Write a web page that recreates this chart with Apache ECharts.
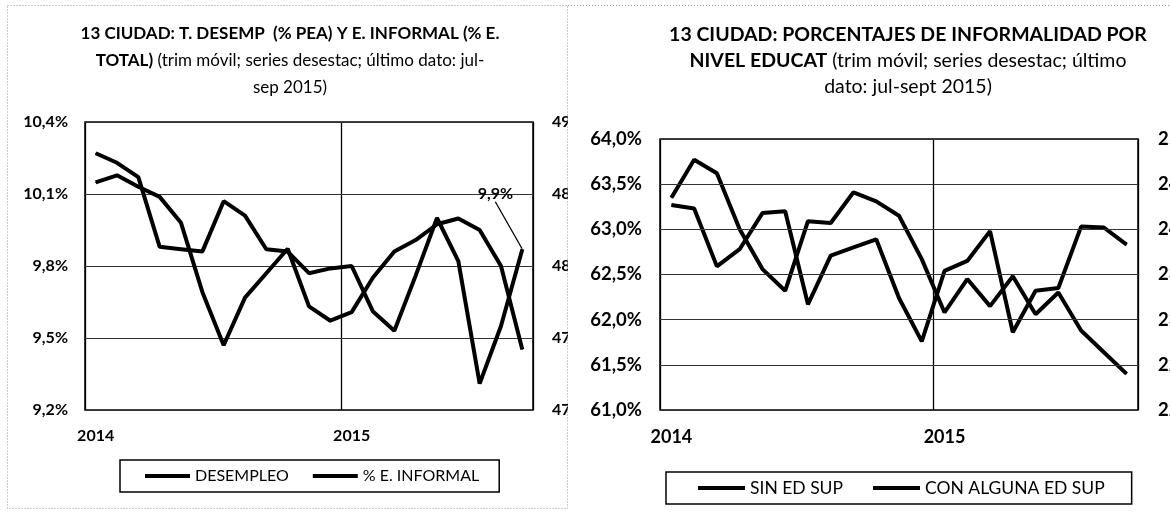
<!DOCTYPE html>
<html>
<head>
<meta charset="utf-8">
<script src="https://cdn.jsdelivr.net/npm/echarts@6/dist/echarts.min.js"></script>
<style>
html, body { margin: 0; padding: 0; background: #fff; }
#main { width: 1170px; height: 517px; }
</style>
</head>
<body>
<div id="main"></div>
<script>
// meses (trim movil), ene-2014 .. sep-2015
var months = ['2014-01','2014-02','2014-03','2014-04','2014-05','2014-06','2014-07','2014-08','2014-09','2014-10','2014-11','2014-12',
              '2015-01','2015-02','2015-03','2015-04','2015-05','2015-06','2015-07','2015-08','2015-09'];

// grafico 1: desempleo (% PEA, eje izq) y empleo informal (% E. total, eje der)
var desempleo = [10.27, 10.23, 10.17, 9.88, 9.87, 9.86, 10.07, 10.01, 9.87, 9.86, 9.77, 9.79,
                 9.80, 9.61, 9.53, 9.76, 10.00, 9.82, 9.31, 9.55, 9.87];
var informal = [48.58, 48.63, 48.55, 48.48, 48.30, 47.82, 47.45, 47.78, 47.95, 48.12, 47.72, 47.62,
                47.68, 47.92, 48.10, 48.18, 48.29, 48.33, 48.25, 48.00, 47.42];

// grafico 2: informalidad por nivel educativo
var sinEdSup = [63.35, 63.77, 63.62, 63.00, 62.56, 62.32, 63.09, 63.07, 63.41, 63.31, 63.15, 62.67,
                62.08, 62.45, 62.15, 62.48, 62.06, 62.30, 61.88, 61.64, 61.40];
var conEdSup = [24.27, 24.23, 23.59, 23.78, 24.18, 24.20, 23.17, 23.71, 23.80, 23.89, 23.24, 22.76,
                23.54, 23.65, 23.98, 22.86, 23.32, 23.35, 24.03, 24.02, 23.83];

var FONT = 'Lato';
var pct = function (v) { return v.toFixed(1).replace('.', ',') + '%'; };
var isYearStart = function (i, v) { return String(v).slice(5) === '01'; };

function xAxisFor(grid, size) {
  return {
    type: 'category', gridIndex: grid, data: months, boundaryGap: true,
    axisLine: { show: false }, axisTick: { show: false },
    axisLabel: {
      interval: isYearStart, margin: 18,
      formatter: function (v) { return v.slice(0, 4); },
      fontFamily: FONT, fontWeight: 'bold', fontSize: size, color: '#000'
    },
    splitLine: { show: true, interval: isYearStart, lineStyle: { color: '#000', width: 1.3 } }
  };
}
function yAxisFor(grid, pos, min, max, step, size, margin, grids, z) {
  return {
    type: 'value', gridIndex: grid, position: pos, min: min, max: max, interval: step, z: z,
    axisLine: { show: false }, axisTick: { show: false },
    axisLabel: { formatter: pct, margin: margin, fontFamily: FONT, fontWeight: 'bold', fontSize: size, color: '#000' },
    splitLine: { show: grids, lineStyle: { color: '#333', width: 1 } }
  };
}
function lineSeries(name, data, xi, yi) {
  return {
    name: name, type: 'line', xAxisIndex: xi, yAxisIndex: yi, data: data,
    symbol: 'circle', symbolSize: 1, showSymbol: true,
    itemStyle: { color: '#000' }, lineStyle: { color: '#000', width: 4 },
    emphasis: { disabled: true }
  };
}

var lastIdx = desempleo.length - 1;
var desempleoData = desempleo.map(function (v, i) {
  if (i !== lastIdx) return v;
  return {
    value: v,
    label: { show: true, position: 'top', formatter: function (p) { return pct(p.value); },
             fontFamily: FONT, fontWeight: 'bold', fontSize: 16, color: '#000' },
    labelLine: { show: true, lineStyle: { color: '#000', width: 1.3 } }
  };
});

var s1 = lineSeries('DESEMPLEO', desempleoData, 0, 0);
s1.labelLayout = { dx: -27, dy: -42 };

var rich1 = {
  b: { fontFamily: FONT, fontWeight: 'bold', fontSize: 17, lineHeight: 27, color: '#000' },
  n: { fontFamily: FONT, fontWeight: 'normal', fontSize: 17, lineHeight: 27, color: '#000' }
};
var rich2 = {
  b: { fontFamily: FONT, fontWeight: 'bold', fontSize: 19.5, lineHeight: 26, color: '#000' },
  n: { fontFamily: FONT, fontWeight: 'normal', fontSize: 19.5, lineHeight: 26, color: '#000' }
};

var option = {
  animation: false,
  backgroundColor: '#fff',
  title: [{
    text: '{b|13 CIUDAD: T. DESEMP  (% PEA) Y E. INFORMAL (% E.}\n{b|TOTAL)}{n| (trim móvil; series desestac; último dato: jul-}\n{n|sep 2015)}',
    left: 290, top: 20, padding: 0, textAlign: 'center',
    textStyle: { rich: rich1 }
  }, {
    text: '{b|13 CIUDAD: PORCENTAJES DE INFORMALIDAD POR}\n{b|NIVEL EDUCAT}{n| (trim móvil; series desestac; último}\n{n|dato: jul-sept 2015)}',
    left: 908, top: 22, padding: 0, textAlign: 'center',
    textStyle: { rich: rich2 }
  }],
  legend: [{
    data: ['DESEMPLEO', '% E. INFORMAL'],
    left: 120, top: 460, orient: 'horizontal',
    icon: 'rect', itemWidth: 45, itemHeight: 4, itemGap: 24,
    padding: [8, 20, 8, 25], borderColor: '#000', borderWidth: 1.5,
    textStyle: { fontFamily: FONT, fontSize: 16, color: '#000' },
    selectedMode: false
  }, {
    data: ['SIN ED SUP', 'CON ALGUNA ED SUP'],
    left: 666, top: 472, orient: 'horizontal',
    icon: 'rect', itemWidth: 47, itemHeight: 4, itemGap: 30,
    padding: [7, 27, 7, 32], borderColor: '#000', borderWidth: 1.5,
    textStyle: { fontFamily: FONT, fontSize: 17.5, color: '#000' },
    selectedMode: false
  }],
  grid: [
    { left: 85, top: 122, width: 448, height: 288, show: true, borderColor: '#000', borderWidth: 1.5, outerBoundsMode: 'none' },
    { left: 660, top: 139, width: 478, height: 271, show: true, borderColor: '#000', borderWidth: 1.5, outerBoundsMode: 'none' }
  ],
  xAxis: [xAxisFor(0, 16), xAxisFor(1, 18)],
  yAxis: [
    yAxisFor(0, 'left', 9.2, 10.4, 0.3, 16, 17, true, 1),
    yAxisFor(0, 'right', 47, 49, 0.5, 16, 19, false, 1),
    yAxisFor(1, 'left', 61, 64, 0.5, 18.5, 18, true, 10),
    yAxisFor(1, 'right', 22, 25, 0.5, 18.5, 20, false, 10)
  ],
  series: [
    s1,
    lineSeries('% E. INFORMAL', informal, 0, 1),
    lineSeries('SIN ED SUP', sinEdSup, 1, 2),
    lineSeries('CON ALGUNA ED SUP', conEdSup, 1, 3)
  ],
  graphic: [
    { type: 'rect', z: 5, shape: { x: 568, y: 100, width: 45, height: 340 }, style: { fill: '#fff' } },
    { type: 'rect', z: 101, shape: { x: 7.5, y: 5.5, width: 560, height: 503 },
      style: { fill: 'none', stroke: '#999', lineWidth: 1, lineDash: [1, 2] } },
    { type: 'line', z: 101, shape: { x1: 568, y1: 5.5, x2: 1170, y2: 5.5 },
      style: { stroke: '#999', lineWidth: 1, lineDash: [1, 2] } }
  ]
};

var myChart = echarts.init(document.getElementById('main'));
myChart.setOption(option);
</script>
</body>
</html>
